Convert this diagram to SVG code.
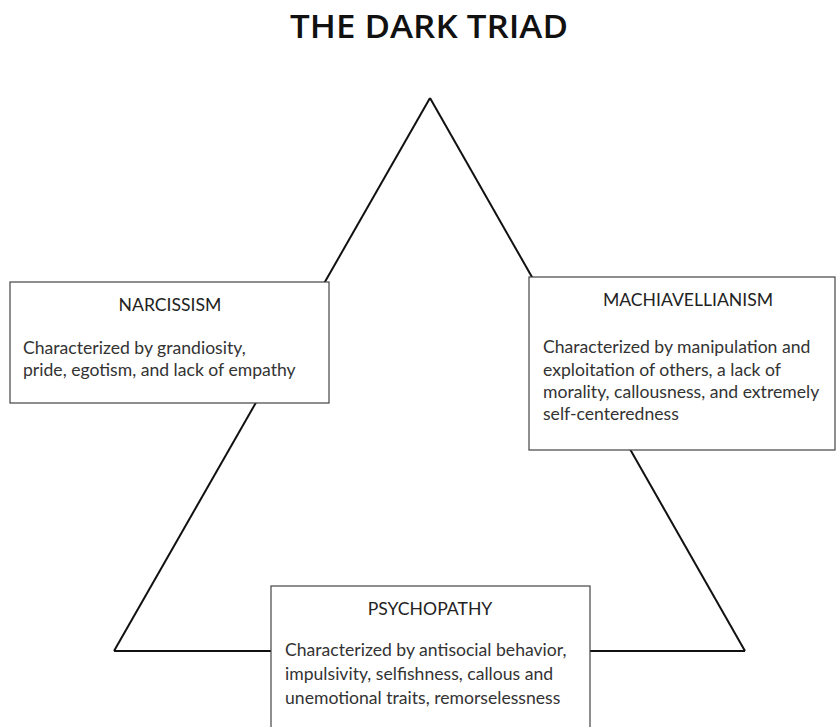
<svg xmlns="http://www.w3.org/2000/svg" width="836" height="727" viewBox="0 0 836 727">
<style>
.box{fill:#fff;stroke:#444;stroke-width:1.2}
.head{font-family:Lato,"Liberation Sans",sans-serif;font-size:17.6px;fill:#222;text-anchor:middle}
.body{font-family:Lato,"Liberation Sans",sans-serif;font-size:17.6px;fill:#333}
.title{font-family:"Open Sans",Lato,sans-serif;font-size:32px;font-weight:600;fill:#111;text-anchor:middle}
.edge{stroke:#111;stroke-width:2;fill:none}
</style>
<rect width="836" height="727" fill="#fff"/>
<text class="title" x="429" y="38" textLength="278" lengthAdjust="spacingAndGlyphs">THE DARK TRIAD</text>
<g id="connectors">
<line class="edge" x1="430" y1="98" x2="114" y2="651"/>
<line class="edge" x1="430" y1="98" x2="745" y2="651"/>
<line class="edge" x1="114" y1="651" x2="745" y2="651"/>
</g>
<g id="narcissism">
<rect class="box" x="10" y="282" width="319" height="121"/>
<text class="head" x="170" y="311">NARCISSISM</text>
<text class="body" x="23" y="354">Characterized by grandiosity,</text>
<text class="body" x="23" y="376">pride, egotism, and lack of empathy</text>
</g>
<g id="machiavellianism">
<rect class="box" x="529" y="277" width="306" height="173"/>
<text class="head" x="688" y="306">MACHIAVELLIANISM</text>
<text class="body" x="543" y="353">Characterized by manipulation and</text>
<text class="body" x="543" y="376">exploitation of others, a lack of</text>
<text class="body" x="543" y="398">morality, callousness, and extremely</text>
<text class="body" x="543" y="420">self-centeredness</text>
</g>
<g id="psychopathy">
<rect class="box" x="271" y="586" width="319" height="150"/>
<text class="head" x="430" y="615">PSYCHOPATHY</text>
<text class="body" x="285" y="656">Characterized by antisocial behavior,</text>
<text class="body" x="285" y="680">impulsivity, selfishness, callous and</text>
<text class="body" x="285" y="704">unemotional traits, remorselessness</text>
</g>
</svg>
